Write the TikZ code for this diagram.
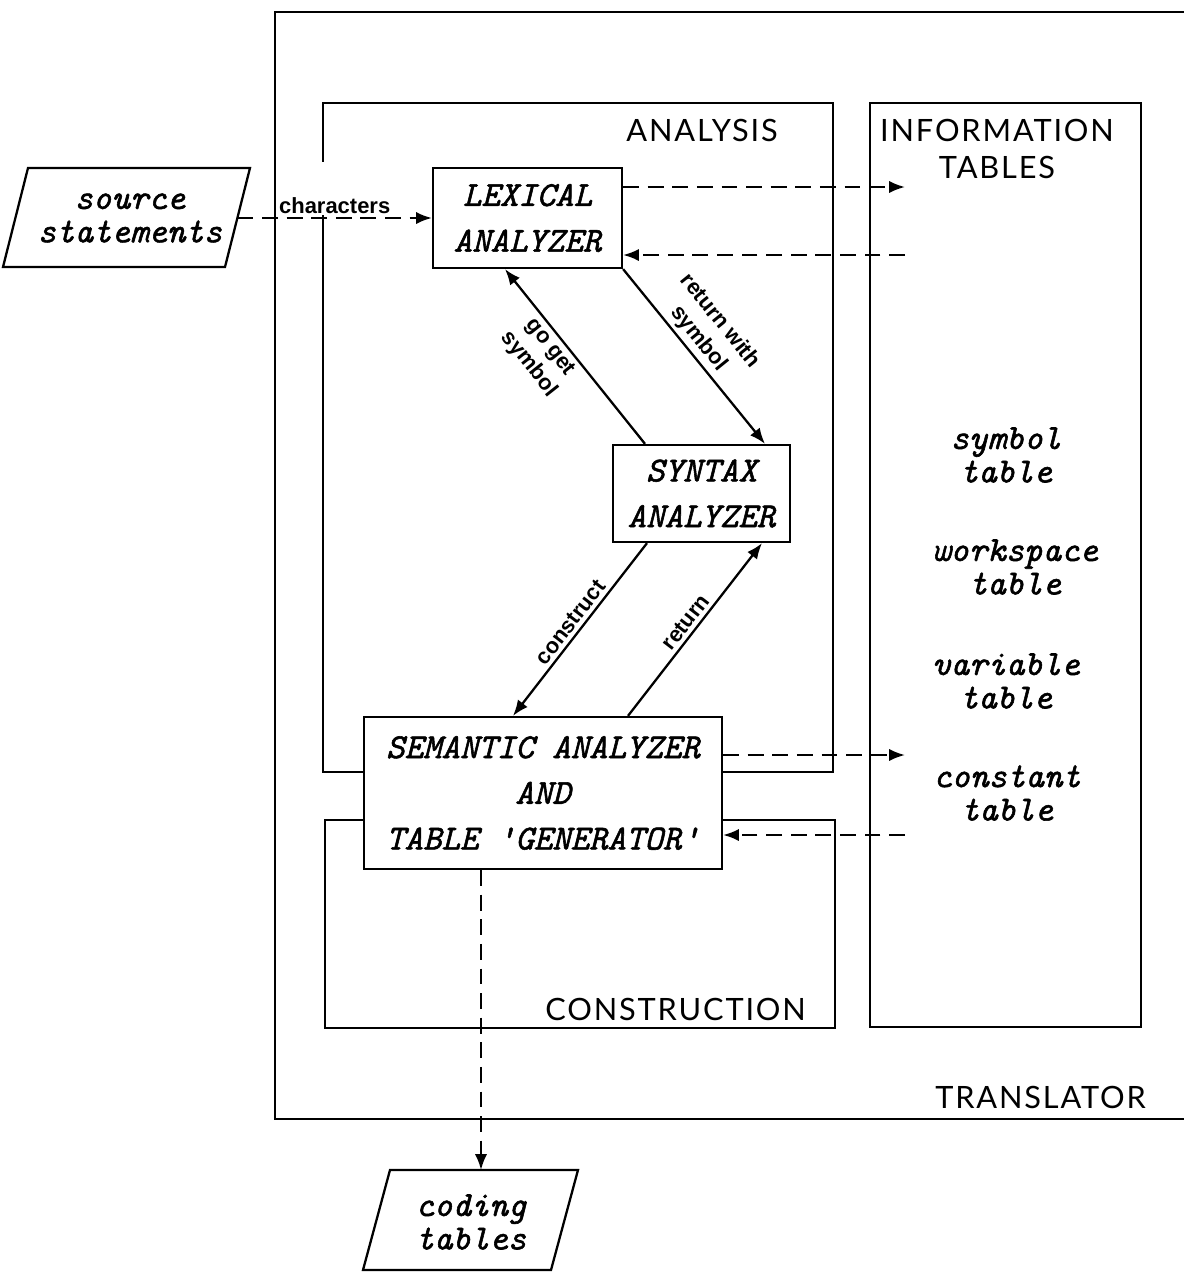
\documentclass[tikz,border=0pt]{standalone}
\usepackage{fontspec}
\usetikzlibrary{calc,arrows.meta}
\newfontfamily\headfont{Lato}[LetterSpace=6]
\newfontfamily\labfont{Liberation Sans}
\newfontfamily\codefont{Latin Modern Mono}[ItalicFeatures={FakeBold=1.6}]
\newcommand\codesize{\fontsize{20}{19}\selectfont\codefont\itshape}
\tikzset{
  frame/.style={line width=1.3pt},
  box/.style={draw, line width=1.3pt, fill=white, font=\codesize, align=center},
  tab/.style={font=\codesize, align=center},
  head/.style={font=\headfont\fontsize{17.5}{21.5}\selectfont, align=center},
  lab/.style={font=\labfont\bfseries\fontsize{12.5}{15.5}\selectfont, align=center, inner sep=2pt},
  arr/.style={line width=1.3pt, -{Latex[length=9pt,width=7pt]}},
  dasharr/.style={line width=1.3pt, dash pattern=on 9pt off 5pt, -{Latex[length=9pt,width=7pt]}}
}
\begin{document}
\begin{tikzpicture}[x=0.02cm, y=-0.02cm]
                \useasboundingbox (0,0) rectangle (1184,1272);
                % translator frame, open to the right
                \draw [frame] (1184,12) -- (275,12) -- (275,1119) -- (1184,1119);
                \draw [frame] (323,103) rectangle (833,772);
                \draw [frame] (325,820) rectangle (835,1028);
                \draw [frame] (870,103) rectangle (1141,1027);
                \node [head, anchor=base east] (anatitle) at (784,141) {ANALYSIS};
                \node [head] (infotitle) at (997,149) {INFORMATION\\TABLES};
                \node [head, anchor=base east] (contitle) at (812,1020) {CONSTRUCTION};
                \node [head, anchor=base east] (tratitle) at (1152,1108) {TRANSLATOR};
                % input and output
                \draw [frame] (28,168) -- (250,168) -- (225,267) -- (3,267) -- cycle;
                \node [tab] (src) at (130,218) {source\\statements};
                \coordinate (srcout) at (237.5,218);
                \draw [frame] (390,1170) -- (578,1170) -- (551,1270) -- (363,1270) -- cycle;
                \node [tab] (coding) at (471,1222) {coding\\tables};
                \coordinate (codein) at (481,1170);
                % analyzers
                \node [box, minimum width=3.78cm, minimum height=2cm] (lex) at (527.5,218) {LEXICAL\\[7pt]ANALYZER};
                \node [box, minimum width=3.54cm, minimum height=1.94cm] (syn) at (701.5,493.5) {SYNTAX\\[7pt]ANALYZER};
                \node [box, minimum width=7.16cm, minimum height=3.04cm] (sem) at (543,793) {SEMANTIC ANALYZER\\[7pt]AND\\[7pt]TABLE 'GENERATOR'};
                % tables
                \node [tab] (symtab) at (1006,455) {symbol\\table};
                \node [tab] (worktab) at (1015,567) {workspace\\table};
                \node [tab] (vartab) at (1006,681) {variable\\table};
                \node [tab] (contab) at (1007,793) {constant\\table};
                \coordinate (infoa) at (905,187);
                \coordinate (infob) at (905,255);
                \coordinate (infoc) at (905,755);
                \coordinate (infod) at (905,835);
                % connectors
                \draw [dasharr] (srcout) -- node [lab, fill=white, anchor=south, yshift=1pt, text height=28pt, text depth=0pt, inner sep=1pt] {characters} (lex);
                \draw [arr] ($(syn.north)+(-56.5,0)$) -- node [lab, rotate=-51.7, anchor=north, pos=0.6] {go get\\symbol} ($(lex.south)+(-22.5,0)$);
                \draw [arr] (lex.south east) -- node [lab, rotate=-51.1, anchor=south, pos=0.45] {return with\\symbol} ($(syn.north)+(63.5,0)$);
                \draw [arr] ($(syn.south)+(-54.5,0)$) -- node [lab, rotate=52.4, anchor=south] {construct} ($(sem.north)+(-30,0)$);
                \draw [arr] ($(sem.north)+(85,0)$) -- node [lab, rotate=52.4, anchor=south] {return} ($(syn.south)+(60.5,0)$);
                \draw [dasharr] (lex.east |- infoa) -- (infoa);
                \draw [dasharr] (infob) -- (lex.east |- infob);
                \draw [dasharr] (sem.east |- infoc) -- (infoc);
                \draw [dasharr] (infod) -- (sem.east |- infod);
                \draw [dasharr] (sem.south -| codein) -- (codein);
            \end{tikzpicture}
\end{document}
